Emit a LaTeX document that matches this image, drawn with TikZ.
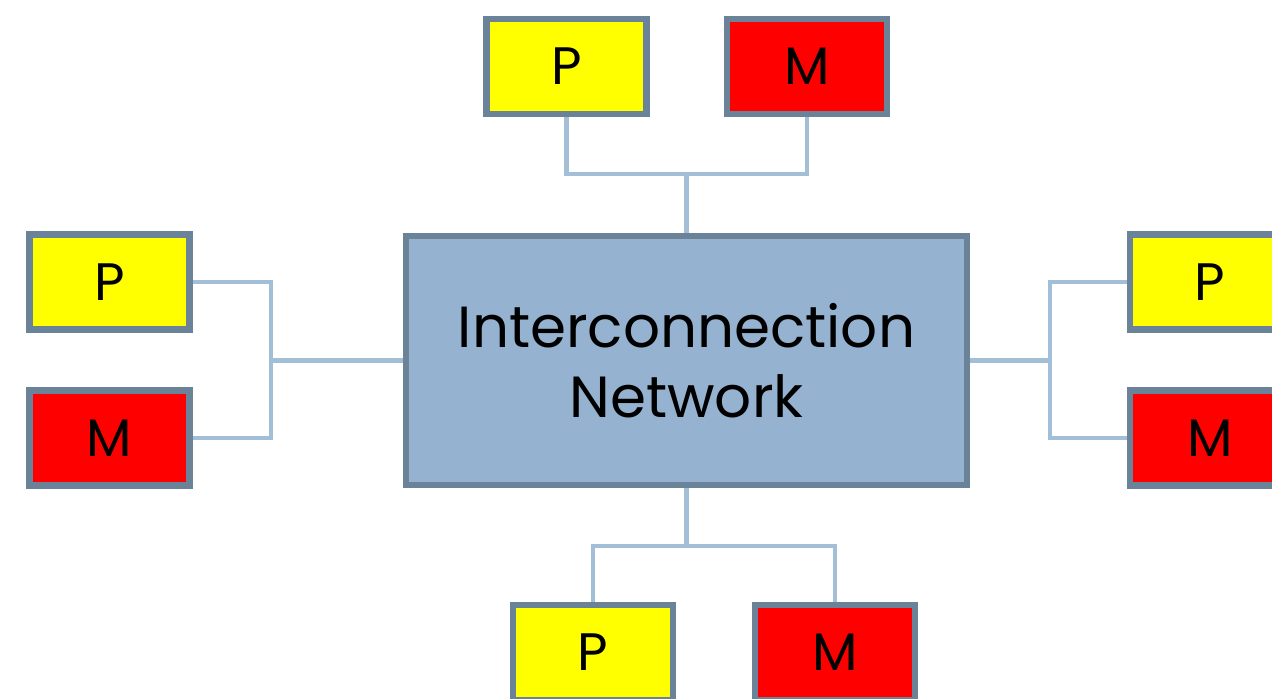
\documentclass[tikz,border=0pt]{standalone}
\usepackage{fontspec}
\setmainfont{Poppins}
\usetikzlibrary{positioning, backgrounds}
\definecolor{netblue}{HTML}{95B3D0}
\definecolor{edgeslate}{HTML}{6A8399}
\definecolor{wireblue}{HTML}{A3BFD8}
\definecolor{procyellow}{HTML}{FFFF00}
\definecolor{memred}{HTML}{FF0000}
\tikzset{
unit/.style={draw=edgeslate, line width=0.13cm, minimum width=3.2cm, minimum height=1.9cm,
  font=\fontsize{30}{32}\selectfont, inner sep=0pt}, % the small P and M boxes
proc/.style={unit, fill=procyellow},
mem/.style={unit, fill=memred},
network/.style={draw=edgeslate, fill=netblue, line width=0.13cm, minimum width=11.22cm,
  minimum height=4.98cm, align=center, font=\fontsize{33}{40}\selectfont},
wire/.style={draw=wireblue, line width=0.09cm},
}

\begin{document}
\begin{tikzpicture}
\useasboundingbox (0,0) rectangle (25.44,13.96);
\node[network] at (13.73, 6.75) (net) {Interconnection\\Network};
\node[proc] at (11.33, 12.63) (tP) {P};
\node[mem] at (16.14, 12.63) (tM) {M};
\node[proc] at (2.19, 8.32) (lP) {P};
\node[mem] at (2.19, 5.2) (lM) {M};
\node[proc] at (24.2, 8.32) (rP) {P};
\node[mem] at (24.2, 5.2) (rM) {M};
\node[proc] at (11.86, 0.91) (bP) {P};
\node[mem] at (16.7, 0.91) (bM) {M};
\coordinate (tj) at (13.73, 10.48);
\coordinate (bj) at (13.73, 3.04);
\coordinate (lj) at (5.42, 6.75);
\coordinate (rj) at (21.0, 6.75);
\begin{scope}[on background layer]
\draw[wire] (tP.south) |- (tj) -| (tM.south);
\draw[wire] (tj) -- (net.north);
\draw[wire] (bP.north) |- (bj) -| (bM.north);
\draw[wire] (bj) -- (net.south);
\draw[wire] (lP.east) -| (lj) |- (lM.east);
\draw[wire] (lj) -- (net.west);
\draw[wire] (rP.west) -| (rj) |- (rM.west);
\draw[wire] (rj) -- (net.east);
\end{scope}
\end{tikzpicture}
\end{document}
